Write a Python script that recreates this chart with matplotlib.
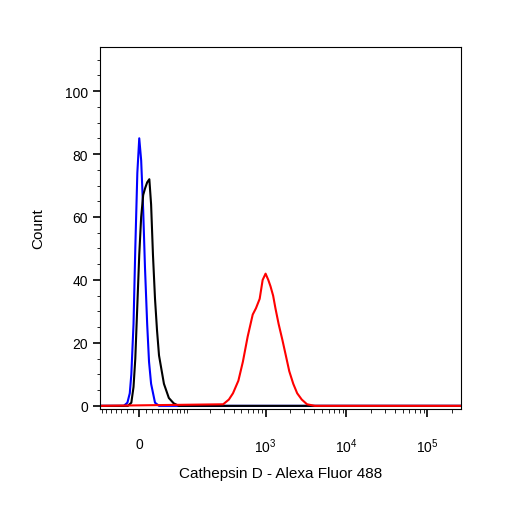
import numpy as np
import matplotlib
matplotlib.use("Agg")
import matplotlib.pyplot as plt

plt.rcParams['font.family'] = ['Liberation Sans', 'DejaVu Sans']

blue_x = [-75, -25, -18.9, -15, -12.5, -9, -6.2, -3, 0, 3, 6.2, 9, 12.5, 15.5, 18.9, 25.5, 32.6, 260000]
blue_y = [0, 0, 1, 4, 10, 26, 50, 74, 85, 78, 62, 44, 26, 14, 7, 1, 0, 0]
black_x = [-75, -18, -12.5, -9, -6.2, -3, 0, 3, 6.2, 9, 12.5, 16, 18.9, 22, 25.5, 29, 32.6, 41.9, 52, 63, 76, 260000]
black_y = [0, 0, 1, 6, 15, 32, 48, 60, 67, 69, 71, 72, 64, 48, 34, 24, 16, 7, 2.5, 0.8, 0, 0]
red_x = [-75, 297, 350, 394, 460, 523, 600, 693, 760, 845, 920, 1000, 1080, 1150, 1240, 1324, 1450, 1612, 1780, 1963, 2200, 2459, 2800, 3252, 4073, 260000]
red_y = [0, 0.5, 2, 4, 8, 14, 22, 29, 31, 34, 40, 42, 40, 38, 35, 31, 26, 21, 16, 11, 7, 4, 2, 0.5, 0, 0]

C = 27.5
def fwd(x):
    return np.arcsinh(np.asarray(x) / (2 * C)) / np.log(10)
def inv(y):
    return 2 * C * np.sinh(np.asarray(y) * np.log(10))

fig = plt.figure(figsize=(5.06, 5.06), dpi=100)
ax = fig.add_axes([100/506, 96/506, 361/506, 362/506])
ax.set_xscale('function', functions=(fwd, inv))
ax.plot(blue_x, blue_y, color='#0000ff', lw=1.5)
ax.plot(black_x, black_y, color='black', lw=1.5)
ax.plot(red_x, red_y, color='#ff0000', lw=1.5)
ax.set_xlim(-75, 260000)
ax.set_ylim(-1, 114)

ax.set_xticks([0, 1000, 10000, 100000])
ax.set_xticklabels(['0', r'10$^{\mathregular{3}}$', r'10$^{\mathregular{4}}$', r'10$^{\mathregular{5}}$'])
minor = [-v for v in range(10, 80, 10)] + list(range(10, 100, 10)) + \
        [m * 10**k for k in (2, 3, 4, 5) for m in range(1, 10) if m * 10**k < 260000 and not (m == 1 and k > 2)]
ax.set_xticks(minor, minor=True)
ax.set_yticks([0, 20, 40, 60, 80, 100])
ax.set_yticks(np.arange(0, 114, 5), minor=True)
ax.tick_params(axis='x', which='major', length=6, width=1.2, pad=14, labelsize=10)
ax.tick_params(axis='x', which='minor', length=3)
ax.tick_params(axis='y', which='major', length=5, width=1.2, labelsize=10)
ax.tick_params(axis='y', which='minor', length=2.5)
ax.set_ylabel('Count', fontsize=11, labelpad=14)
ax.set_xlabel('Cathepsin D - Alexa Fluor 488', fontsize=11, labelpad=8)
fig.savefig('out.png', dpi=100)
